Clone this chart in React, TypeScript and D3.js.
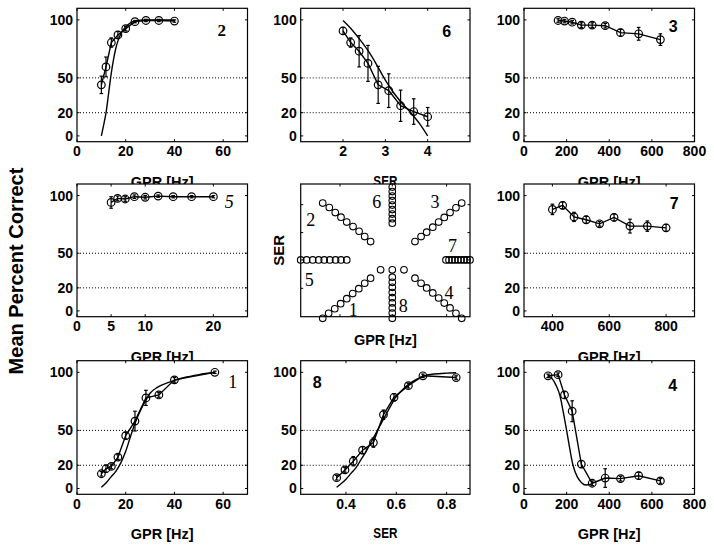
import React from 'react';
import * as d3 from 'd3';

const W = 714;
const H = 547;

// shared y axis (percent correct)
const yTicks = [0, 20, 50, 100];
const yRefLines = [20, 50];
const yDomain = [-5, 110];

// condition 2 (GPR)
const c2X = [10, 11.9, 14.1, 16.8, 20, 23.8, 28.3, 33.6, 40];
const c2Y = [44, 59.5, 80.5, 87, 92.5, 98.5, 99.5, 99.5, 99];
const c2E = [7.5, 8.5, 4, 3, 2, 1, 1, 1, 1];
const c2FitX = [10, 11, 12, 13, 14, 15, 16, 17, 18, 20, 22, 24, 28, 34, 40];
const c2FitY = [0, 10, 21, 37, 53, 66, 76, 83, 88, 94, 97.5, 99.3, 100, 100, 100];

// condition 6 (SER)
const c6X = [2, 2.18, 2.38, 2.59, 2.83, 3.08, 3.36, 3.67, 4.0];
const c6Y = [90.5, 80.5, 73, 62.5, 44, 39, 26, 21, 16.5];
const c6E = [3, 4, 13.5, 15.5, 16, 14.5, 13.5, 11, 8];
const c6FitX = [2.0, 2.2, 2.4, 2.6, 2.8, 3.0, 3.2, 3.4, 3.6, 3.8, 4.0];
const c6FitY = [99.5, 92, 83, 73, 61, 48, 37, 28, 20, 11, 0];

// condition 3 (GPR)
const c3X = [160, 190, 226, 269, 320, 381, 453, 538, 640];
const c3Y = [99.5, 99, 98, 95.5, 95.5, 95, 89, 88, 83];
const c3E = [1.5, 1.5, 1.5, 2, 2, 2, 3, 5.5, 5];

// condition 5 (GPR)
const c5X = [5, 5.95, 7.07, 8.41, 10, 11.9, 14.1, 16.8, 20];
const c5Y = [94, 97.5, 97, 99, 98.5, 99.5, 99, 99, 99];
const c5E = [5, 2, 2, 1.5, 1.5, 1, 1, 1, 1];

// condition 7 (GPR)
const c7X = [400, 436, 476, 519, 566, 617, 673, 734, 800];
const c7Y = [88, 91.5, 81.5, 79, 75.5, 81, 73.5, 73.5, 72];
const c7E = [4.5, 3, 4, 3, 2, 3, 6, 4.5, 3];

// condition 1 (GPR)
const c1X = [10, 11.9, 14.1, 16.8, 20, 23.8, 28.3, 33.6, 40, 56.6];
const c1Y = [12.7, 17, 19, 27, 45.5, 58, 78, 80.5, 93.5, 100];
const c1E = [2, 3, 2, 2, 3, 8.5, 6.5, 2, 2, 1];
const c1FitX = [10, 12, 14, 16, 18, 20, 22, 24, 26, 28, 30, 33, 36, 40, 45, 50, 56.6];
const c1FitY = [1, 5, 10, 15, 22, 32, 45, 57, 67, 75, 82, 87, 90, 93, 96, 98, 100];

// condition 8 (SER)
const c8X = [0.363, 0.396, 0.429, 0.466, 0.509, 0.549, 0.591, 0.648, 0.706, 0.838];
const c8Y = [9.3, 16, 23.5, 33, 39.5, 63.5, 78.5, 88.5, 97, 95.5];
const c8E = [2, 2, 4, 3, 4, 4, 3, 2, 1.5, 1.5];
const c8FitX = [0.363, 0.38, 0.4, 0.42, 0.44, 0.46, 0.48, 0.5, 0.52, 0.54, 0.56, 0.58, 0.6, 0.62, 0.65, 0.68, 0.71, 0.75, 0.8, 0.838];
const c8FitY = [1, 4, 8, 13, 18, 25, 32, 40, 48, 56, 64, 72, 79, 84, 90, 94, 97, 98.5, 99.3, 99.6];

// condition 4 (GPR)
const c4X = [113, 160, 190, 226, 269, 320, 381, 453, 538, 640];
const c4Y = [97, 98, 80.5, 66.5, 21, 4.5, 9, 8.5, 11, 6.5];
const c4E = [1.5, 1.5, 3, 9, 3, 2, 8, 2, 3, 2];
const c4FitX = [113, 130, 150, 170, 185, 200, 215, 230, 250, 270, 290, 320];
const c4FitY = [97, 95, 89, 79, 65, 50, 34, 20, 10, 5, 3, 4];

// schematic of the stimulus space (normalised GPR / SER units 0..100)
const sch1U = [13.0, 16.5, 20.1, 23.6, 27.2, 30.7, 34.3, 37.8, 41.3];
const sch1V = [-1.2, 2.6, 6.0, 9.8, 13.6, 17.4, 21.1, 25.2, 29.0];
const sch2U = [13.0, 16.9, 20.4, 23.8, 27.2, 30.9, 34.5, 37.8, 41.3];
const sch2V = [85.6, 82.3, 78.5, 75.0, 71.3, 67.9, 64.4, 60.4, 56.6];
const sch3U = [67.5, 71.1, 74.4, 78.0, 81.5, 84.8, 88.2, 91.7, 95.1];
const sch3V = [56.6, 60.4, 63.7, 67.5, 71.3, 74.8, 78.5, 82.1, 85.6];
const sch4U = [67.5, 71.1, 74.4, 78.0, 81.5, 84.8, 88.2, 91.7, 95.1];
const sch4V = [29.0, 25.2, 21.7, 17.9, 14.1, 10.3, 6.6, 2.6, -1.2];
const sch5U = [0, 3.5, 7.1, 10.6, 13.9, 17.2, 20.6, 23.8, 27.2];
const sch5V = [42.8, 42.8, 42.8, 42.8, 42.8, 42.8, 42.8, 42.8, 42.8];
const sch6U = [54.1, 54.1, 54.1, 54.1, 54.1, 54.1, 54.1, 54.1, 54.1];
const sch6V = [97.7, 94.3, 90.9, 87.5, 84.1, 80.7, 77.3, 73.9, 70.5];
const sch7U = [85.8, 87.6, 89.4, 91.1, 92.9, 94.7, 96.5, 98.2, 100];
const sch7V = [42.8, 42.8, 42.8, 42.8, 42.8, 42.8, 42.8, 42.8, 42.8];
const sch8U = [54.1, 54.1, 54.1, 54.1, 54.1, 54.1, 54.1, 54.1, 54.1];
const sch8V = [29.8, 25.9, 22.1, 18.2, 14.3, 10.4, 6.6, 2.7, -1.2];
const schRefU = [47.2, 54.1, 61.0];
const schRefV = [35.3, 35.3, 35.3];
const schTicksV = [21.4, 42.8, 63.4, 84.4];
const schTicksU = [23.2, 54.1, 86.2];
const schNames = ['1', '2', '3', '4', '5', '6', '7', '8'];

// ---- layout ----
const COLS = [
  { x0: 77, x1: 247.5 },
  { x0: 300.7, x1: 470 },
  { x0: 524, x1: 694.5 },
];
const ROWS = [
  { y0: 8.3, y1: 141.7 },
  { y0: 184, y1: 316.7 },
  { y0: 360.7, y1: 494.3 },
];

const SANS = "'Liberation Sans', Arial, Helvetica, sans-serif";
const SERIF = "'Liberation Serif', 'Times New Roman', serif";

type Panel = {
  col: number;
  row: number;
  xDomain: number[];
  xTicks: number[];
  xFmt: (v: number) => string;
  xLabel: string;
  x: number[];
  y: number[];
  e: number[];
  fx?: number[];
  fy?: number[];
  tag: string;
  tagX: number;
  tagY: number;
  tagFont: string;
  tagWeight?: string;
  tagStyle?: string;
  tagSize: number;
};

const intFmt = (v: number) => String(v);
const decFmt = (v: number) => v.toFixed(1);

const panels: Panel[] = [
  { col: 0, row: 0, xDomain: [0, 70], xTicks: [0, 20, 40, 60], xFmt: intFmt, xLabel: 'GPR [Hz]',
    x: c2X, y: c2Y, e: c2E, fx: c2FitX, fy: c2FitY,
    tag: '2', tagX: 221.7, tagY: 35.5, tagFont: SERIF, tagWeight: 'bold', tagSize: 17 },
  { col: 1, row: 0, xDomain: [1, 5], xTicks: [2, 3, 4], xFmt: intFmt, xLabel: 'SER',
    x: c6X, y: c6Y, e: c6E, fx: c6FitX, fy: c6FitY,
    tag: '6', tagX: 446.7, tagY: 37, tagFont: SANS, tagWeight: 'bold', tagSize: 16 },
  { col: 2, row: 0, xDomain: [0, 800], xTicks: [0, 200, 400, 600, 800], xFmt: intFmt, xLabel: 'GPR [Hz]',
    x: c3X, y: c3Y, e: c3E,
    tag: '3', tagX: 673.3, tagY: 32, tagFont: SANS, tagWeight: 'bold', tagSize: 16 },
  { col: 0, row: 1, xDomain: [0, 25], xTicks: [0, 5, 10, 20], xFmt: intFmt, xLabel: 'GPR [Hz]',
    x: c5X, y: c5Y, e: c5E,
    tag: '5', tagX: 229.3, tagY: 208, tagFont: SERIF, tagStyle: 'italic', tagSize: 18 },
  { col: 2, row: 1, xDomain: [300, 900], xTicks: [400, 600, 800], xFmt: intFmt, xLabel: 'GPR [Hz]',
    x: c7X, y: c7Y, e: c7E,
    tag: '7', tagX: 674.3, tagY: 208.5, tagFont: SANS, tagWeight: 'bold', tagSize: 16 },
  { col: 0, row: 2, xDomain: [0, 70], xTicks: [0, 20, 40, 60], xFmt: intFmt, xLabel: 'GPR [Hz]',
    x: c1X, y: c1Y, e: c1E, fx: c1FitX, fy: c1FitY,
    tag: '1', tagX: 232.7, tagY: 387.5, tagFont: SERIF, tagSize: 18 },
  { col: 1, row: 2, xDomain: [0.22, 0.893], xTicks: [0.4, 0.6, 0.8], xFmt: decFmt, xLabel: 'SER',
    x: c8X, y: c8Y, e: c8E, fx: c8FitX, fy: c8FitY,
    tag: '8', tagX: 317.3, tagY: 387.5, tagFont: SANS, tagWeight: 'bold', tagSize: 16 },
  { col: 2, row: 2, xDomain: [0, 800], xTicks: [0, 200, 400, 600, 800], xFmt: intFmt, xLabel: 'GPR [Hz]',
    x: c4X, y: c4Y, e: c4E, fx: c4FitX, fy: c4FitY,
    tag: '4', tagX: 672.7, tagY: 391, tagFont: SANS, tagWeight: 'bold', tagSize: 16 },
];

const TICK = 2.5;
const LW = 1.4;

function DataPanel({ p }: { p: Panel }) {
  const b = { ...COLS[p.col], ...ROWS[p.row] };
  const x = d3.scaleLinear().domain(p.xDomain).range([b.x0, b.x1]);
  const y = d3.scaleLinear().domain(yDomain).range([b.y1, b.y0]);
  const pts = p.x.map((xv, i) => ({ x: xv, y: p.y[i], e: p.e[i] }));
  const line = d3.line<{ x: number; y: number }>().x((d) => x(d.x)).y((d) => y(d.y));
  const fit = p.fx && p.fy ? p.fx.map((xv, i) => ({ x: xv, y: p.fy![i] })) : null;
  const fitLine = d3.line<{ x: number; y: number }>().x((d) => x(d.x)).y((d) => y(d.y)).curve(d3.curveMonotoneX);
  const cx = (b.x0 + b.x1) / 2;
  const isSer = p.xLabel === 'SER';
  return (
    <g>
      <rect x={b.x0} y={b.y0} width={b.x1 - b.x0} height={b.y1 - b.y0} fill="#fff" />
      {yRefLines.map((v) => (
        <line key={v} x1={b.x0} x2={b.x1} y1={y(v)} y2={y(v)} stroke="#000" strokeWidth={1} strokeDasharray="1,2" />
      ))}
      {fit && <path d={fitLine(fit) || ''} fill="none" stroke="#000" strokeWidth={LW} />}
      <path d={line(pts) || ''} fill="none" stroke="#000" strokeWidth={LW} />
      {pts.map((d, i) => (
        <g key={i} stroke="#000" strokeWidth={1.2}>
          <line x1={x(d.x)} x2={x(d.x)} y1={y(d.y - d.e)} y2={y(d.y + d.e)} />
          <line x1={x(d.x) - 1.8} x2={x(d.x) + 1.8} y1={y(d.y - d.e)} y2={y(d.y - d.e)} />
          <line x1={x(d.x) - 1.8} x2={x(d.x) + 1.8} y1={y(d.y + d.e)} y2={y(d.y + d.e)} />
          <circle cx={x(d.x)} cy={y(d.y)} r={3.8} fill="none" />
        </g>
      ))}
      <rect x={b.x0} y={b.y0} width={b.x1 - b.x0} height={b.y1 - b.y0} fill="none" stroke="#000" strokeWidth={1.2} />
      {p.xTicks.map((t) => (
        <g key={t} stroke="#000" strokeWidth={1}>
          <line x1={x(t)} x2={x(t)} y1={b.y1} y2={b.y1 - TICK} />
          <line x1={x(t)} x2={x(t)} y1={b.y0} y2={b.y0 + TICK} />
        </g>
      ))}
      {yTicks.map((t) => (
        <g key={t} stroke="#000" strokeWidth={1}>
          <line x1={b.x0} x2={b.x0 + TICK} y1={y(t)} y2={y(t)} />
          <line x1={b.x1} x2={b.x1 - TICK} y1={y(t)} y2={y(t)} />
        </g>
      ))}
      {p.xTicks.map((t) => (
        <text key={t} x={x(t)} y={b.y1 + 14.5} textAnchor="middle" fontFamily={SANS} fontWeight="bold" fontSize={14}>
          {p.xFmt(t)}
        </text>
      ))}
      {yTicks.map((t) => (
        <text key={t} x={b.x0 - 4} y={y(t) + 5} textAnchor="end" fontFamily={SANS} fontWeight="bold" fontSize={14}>
          {t}
        </text>
      ))}
      {isSer ? (
        <text x={cx} y={b.y1 + 44} textAnchor="middle" fontFamily={SANS} fontWeight="bold" fontSize={15}
          textLength={24} lengthAdjust="spacingAndGlyphs">
          {p.xLabel}
        </text>
      ) : (
        <text x={cx} y={b.y1 + 45} textAnchor="middle" fontFamily={SANS} fontWeight="bold" fontSize={14.5}>
          {p.xLabel}
        </text>
      )}
      <text x={p.tagX} y={p.tagY} textAnchor="middle" fontFamily={p.tagFont} fontWeight={p.tagWeight || 'normal'}
        fontStyle={p.tagStyle || 'normal'} fontSize={p.tagSize}>
        {p.tag}
      </text>
    </g>
  );
}

function Schematic() {
  const b = { ...COLS[1], ...ROWS[1] };
  const u = d3.scaleLinear().domain([0, 100]).range([b.x0, b.x1]);
  const v = d3.scaleLinear().domain([0, 100]).range([b.y1, b.y0]);
  const rays = [
    [sch1U, sch1V], [sch2U, sch2V], [sch3U, sch3V], [sch4U, sch4V],
    [sch5U, sch5V], [sch6U, sch6V], [sch7U, sch7V], [sch8U, sch8V], [schRefU, schRefV],
  ];
  // label anchor points (u, v) for the ray numbers
  const labelPos: [number, number][] = [
    [31, 0.5], [6, 68.5], [79.3, 82], [87.6, 13.7], [5, 23.5], [44.9, 82], [89.7, 48.4], [60.6, 3.2],
  ];
  return (
    <g>
      <rect x={b.x0} y={b.y0} width={b.x1 - b.x0} height={b.y1 - b.y0} fill="#fff" />
      <rect x={b.x0} y={b.y0} width={b.x1 - b.x0} height={b.y1 - b.y0} fill="none" stroke="#000" strokeWidth={1.2} />
      {schTicksV.map((t) => (
        <g key={t} stroke="#000" strokeWidth={1}>
          <line x1={b.x0} x2={b.x0 + TICK} y1={v(t)} y2={v(t)} />
          <line x1={b.x1} x2={b.x1 - TICK} y1={v(t)} y2={v(t)} />
        </g>
      ))}
      {schTicksU.map((t) => (
        <g key={t} stroke="#000" strokeWidth={1}>
          <line x1={u(t)} x2={u(t)} y1={b.y0} y2={b.y0 + TICK} />
          <line x1={u(t)} x2={u(t)} y1={b.y1} y2={b.y1 - TICK} />
        </g>
      ))}
      {rays.map(([us, vs], k) => (
        <g key={k} stroke="#000" strokeWidth={1.1} fill="none">
          {us.map((uu, i) => (
            <circle key={i} cx={u(uu)} cy={v(vs[i])} r={3.3} />
          ))}
        </g>
      ))}
      {schNames.map((n, i) => (
        <text key={n} x={u(labelPos[i][0])} y={v(labelPos[i][1])} textAnchor="middle" fontFamily={SERIF}
          fontSize={18}>
          {n}
        </text>
      ))}
      <text x={(b.x0 + b.x1) / 2} y={b.y1 + 28.5} textAnchor="middle" fontFamily={SANS} fontWeight="bold" fontSize={14.5}>
        GPR [Hz]
      </text>
      <text transform={`translate(${b.x0 - 17},${(b.y0 + b.y1) / 2}) rotate(-90)`} textAnchor="middle"
        fontFamily={SANS} fontWeight="bold" fontSize={15}>
        SER
      </text>
    </g>
  );
}

export default function App() {
  const byRow = (r: number) => panels.filter((p) => p.row === r);
  return (
    <svg width={W} height={H} style={{ position: 'absolute', left: 0, top: 0 }}>
      <rect width={W} height={H} fill="#fff" />
      {byRow(0).map((p, i) => <DataPanel key={'a' + i} p={p} />)}
      {byRow(1).map((p, i) => <DataPanel key={'b' + i} p={p} />)}
      <Schematic />
      {byRow(2).map((p, i) => <DataPanel key={'c' + i} p={p} />)}
      <text transform="translate(22.5,271) rotate(-90)" textAnchor="middle" fontFamily={SANS} fontWeight="bold"
        fontSize={20}>
        Mean Percent Correct
      </text>
    </svg>
  );
}
